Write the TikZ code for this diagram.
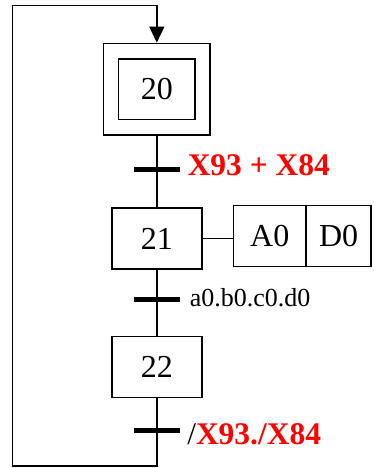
\documentclass[tikz,border=0pt]{standalone}
\usepackage{fontspec}
\setmainfont{Liberation Serif}
\usetikzlibrary{arrows.meta,positioning}

\begin{document}
\begin{tikzpicture}
	[
		x=1pt, y=-1pt,
		line width=1.5pt,
		stepbox/.style={
			draw,
			rectangle,
			inner sep=0pt,
			minimum width=90pt,
			minimum height=61pt,
			font={\fontsize{32}{36}\selectfont},
		},
		initbox/.style={stepbox, minimum width=76.3pt, minimum height=60.3pt},
		outerbox/.style={draw, rectangle, inner sep=0pt, minimum width=106.7pt, minimum height=91.7pt},
		actbox/.style={stepbox, outer sep=0pt, minimum height=61pt},
		bar/.style={line width=5pt},
		link/.style={-{Triangle[length=16pt,width=15pt]}},
		recept/.style={anchor=base west, inner sep=0pt, red, font={\bfseries\fontsize{31.5}{36}\selectfont}},
		cond/.style={anchor=base west, inner sep=0pt, font={\fontsize{26}{30}\selectfont}},
	]
	\useasboundingbox (0,0) rectangle (373,468);

	% steps
	\node[initbox] (s20) at (156.8,89.2) {20};
	\node[outerbox] (s20o) at (s20) {};
	\node[stepbox] (s21) at (156.8,238.7) {21};
	\node[stepbox] (s22) at (156.8,366.9) {22};

	% action of step 21
	\node[actbox, minimum width=72.7pt] (a0) at (269.7,236.2) {A0};
	\node[actbox, minimum width=65pt, right=0pt of a0] (d0) {D0};

	% transitions
	\coordinate (t1) at (156.8,169);
	\coordinate (t2) at (156.8,299.3);
	\coordinate (t3) at (156.8,430);
	\coordinate (bl) at (12.5,466);
	\coordinate (tl) at (12.5,5.5);

	\draw (s20o) -- (s21);
	\draw (s21) -- (s22);
	\draw (s21.east) -- (s21.east -| a0.west);
	\draw[link] (s22.south) |- (bl) -- (tl) -| (s20o.north);

	\foreach \t in {t1,t2,t3}
		\draw[bar] ([xshift=-23pt]\t) -- ([xshift=23pt]\t);

	\node[recept] (r1) at (187,175) {X93 + X84};
	\node[cond] (r2) at (189,306.7) {a0.b0.c0.d0};
	\node[recept] (r3) at (186.5,444.3) {\textcolor{black}{\mdseries /}X93./X84};
\end{tikzpicture}
\end{document}
